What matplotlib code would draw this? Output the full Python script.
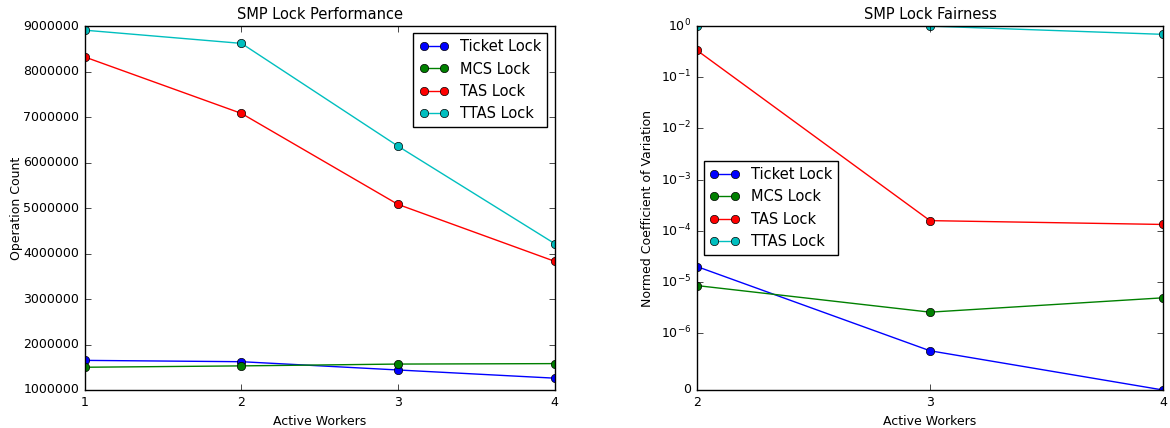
import numpy as np
import matplotlib
matplotlib.use('Agg')
import matplotlib.pyplot as plt
from matplotlib.ticker import NullLocator, ScalarFormatter

plt.style.use('classic')

# Daten: Durchsatz (Operationen) pro Anzahl aktiver Worker
locks = ["Ticket Lock", "MCS Lock", "TAS Lock", "TTAS Lock"]
colors = ["b", "g", "r", "c"]

perf_workers = [1, 2, 3, 4]
perf_ticket = [1651000, 1622000, 1440000, 1260000]
perf_mcs = [1500000, 1530000, 1570000, 1580000]
perf_tas = [8320000, 7080000, 5080000, 3830000]
perf_ttas = [8910000, 8620000, 6360000, 4220000]

# Fairness: normierter Variationskoeffizient
fair_workers = [2, 3, 4]
fair_ticket = [2.0e-5, 6.9e-7, 0.0]
fair_mcs = [8.5e-6, 2.57e-6, 4.9e-6]
fair_tas = [0.336, 1.58e-4, 1.33e-4]
fair_ttas = [1.0, 1.0, 0.69]

perf = [perf_ticket, perf_mcs, perf_tas, perf_ttas]
fair = [fair_ticket, fair_mcs, fair_tas, fair_ttas]

fig = plt.figure(figsize=(11.7, 4.28), dpi=100)
fig.patch.set_facecolor('white')

# ---- links: Performance ----
ax1 = fig.add_axes([0.0726, 0.0888, 0.4014, 0.8502])
for name, c, vals in zip(locks, colors, perf):
    ax1.plot(perf_workers, vals, color=c, marker='o', markersize=6, label=name)
ax1.set_xlim(1, 4)
ax1.set_ylim(1000000, 9000000)
ax1.set_xticks(perf_workers)
ax1.set_yticks(np.arange(1000000, 9000001, 1000000))
fmt = ScalarFormatter(useOffset=False)
fmt.set_scientific(False)
ax1.yaxis.set_major_formatter(fmt)
ax1.set_title("SMP Lock Performance", fontsize=10.5)
ax1.set_xlabel("Active Workers", fontsize=9)
ax1.set_ylabel("Operation Count", fontsize=9, labelpad=0)
ax1.tick_params(labelsize=9)
ax1.legend(loc='upper right', fontsize=10.5, numpoints=2)

# ---- rechts: Fairness ----
ax2 = fig.add_axes([0.5957, 0.0888, 0.3983, 0.8502])
for name, c, vals in zip(locks, colors, fair):
    ax2.plot(fair_workers, vals, color=c, marker='o', markersize=6, label=name)
ax2.set_yscale('symlog', linthresh=1e-6, linscale=1)
ax2.set_xlim(2, 4)
ax2.set_ylim(0, 1)
ax2.set_xticks(fair_workers)
ax2.set_yticks([0, 1e-6, 1e-5, 1e-4, 1e-3, 1e-2, 1e-1, 1])
ax2.set_yticklabels(["0"] + [r"$\mathdefault{10^{%d}}$" % e for e in range(-6, 1)])
ax2.yaxis.set_minor_locator(NullLocator())
ax2.set_title("SMP Lock Fairness", fontsize=10.5)
ax2.set_xlabel("Active Workers", fontsize=9)
ax2.set_ylabel("Normed Coefficient of Variation", fontsize=9)
ax2.tick_params(labelsize=9)
ax2.legend(loc='center left', fontsize=10.5, numpoints=2)

fig.savefig("out.png", dpi=100, facecolor='white')
